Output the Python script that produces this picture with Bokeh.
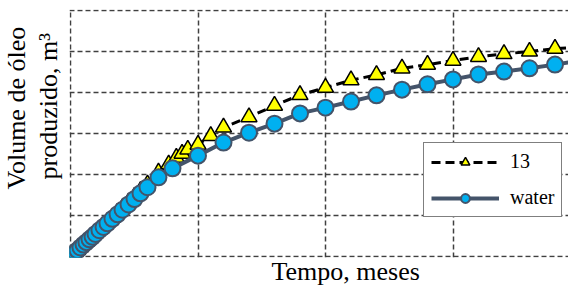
from bokeh.plotting import figure
from bokeh.models import FixedTicker, Legend, LegendItem, Range1d, Title
from bokeh.embed import file_html
from bokeh.resources import INLINE

# ---- data (time in arbitrary units, volume in grid units) ----
x_13 = [0, 0.08, 0.24, 0.39, 0.55, 0.78, 1.02, 1.25, 1.49, 1.73, 1.96, 2.27, 2.59, 2.90,
        3.29, 3.69, 4.08, 4.55, 5.02, 5.49, 6.04, 6.90, 7.7, 8.3, 8.75, 9.2, 10, 11, 12,
        14, 16, 18, 20, 22, 24, 26, 28, 30, 32, 34, 36, 38, 40]
y_13 = [0, 0.02, 0.07, 0.11, 0.16, 0.23, 0.30, 0.37, 0.44, 0.50, 0.57, 0.66, 0.75, 0.84,
        0.95, 1.07, 1.18, 1.32, 1.46, 1.60, 1.76, 2.05, 2.25, 2.41, 2.51, 2.61, 2.73, 2.94, 3.15,
        3.40, 3.68, 3.94, 4.12, 4.30, 4.43, 4.59, 4.68, 4.78, 4.87, 4.94, 5.00, 5.07, 5.11]

x_water = [0, 0.08, 0.24, 0.39, 0.55, 0.78, 1.02, 1.25, 1.49, 1.73, 1.96, 2.27, 2.59, 2.90,
           3.29, 3.69, 4.08, 4.55, 5.02, 5.49, 6.04, 6.90, 8.0, 10, 12, 14, 16, 18, 20, 22,
           24, 26, 28, 30, 32, 34, 36, 38, 40]
y_water = [0, 0.02, 0.07, 0.11, 0.15, 0.22, 0.29, 0.35, 0.42, 0.48, 0.55, 0.64, 0.72, 0.81,
           0.92, 1.03, 1.14, 1.27, 1.40, 1.54, 1.69, 1.93, 2.15, 2.46, 2.78, 3.02, 3.24, 3.49,
           3.63, 3.78, 3.93, 4.07, 4.20, 4.32, 4.44, 4.51, 4.59, 4.68, 4.78]

x_grid = [0, 10, 20, 30, 40]
y_grid = [0, 1, 2, 3, 4, 5, 6]

label_13 = "13"
label_water = "water"
x_title = "Tempo, meses"
y_title_1 = "Volume de óleo"
y_title_2 = "produzido, m³"

SERIF = "Liberation Serif"

p = figure(width=568, height=287, output_backend="svg", toolbar_location=None,
           x_range=Range1d(-1 / 12.75, 498 / 12.75),
           y_range=Range1d(-1 / 41, 247 / 41),
           min_border_left=69, min_border_right=0, min_border_top=9, min_border_bottom=30)
p.xaxis.visible = False
p.yaxis.visible = False
p.outline_line_color = None
p.background_fill_color = "white"
p.border_fill_color = "white"

p.xgrid.ticker = FixedTicker(ticks=x_grid)
p.ygrid.ticker = FixedTicker(ticks=y_grid)
p.grid.grid_line_color = "#404040"
p.grid.grid_line_dash = "5 3"
p.grid.grid_line_width = 1.5
p.grid.grid_line_alpha = 1.0

l13 = p.line(x_13, y_13, line_color="black", line_width=3, line_dash="9 5")
s13 = p.scatter(x_13, y_13, marker="triangle", size=16, fill_color="#FFFF00",
                line_color="black", line_width=1.5)
lw = p.line(x_water, y_water, line_color="#44546A", line_width=4)
sw = p.scatter(x_water, y_water, marker="circle", size=16, fill_color="#00B0F0",
               line_color="#44546A", line_width=2)

legend = Legend(items=[LegendItem(label=label_13, renderers=[l13, s13]),
                       LegendItem(label=label_water, renderers=[lw, sw])],
                location=(354, 40), orientation="vertical",
                label_text_font=SERIF, label_text_font_size="20px", label_text_color="black",
                border_line_color="black", border_line_width=1, background_fill_color="white",
                background_fill_alpha=1.0, padding=7, spacing=13, margin=0,
                glyph_width=68, glyph_height=22, label_height=22, label_standoff=11)
p.add_layout(legend)

# axis titles as titles in the side panels (offset from the frame's start)
p.add_layout(Title(text=x_title, align="left", offset=202, vertical_align="top", standoff=-2,
                   text_font=SERIF, text_font_size="26px", text_font_style="normal",
                   text_color="black"), "below")
p.add_layout(Title(text=y_title_2, align="left", offset=78, vertical_align="bottom", standoff=14,
                   text_font=SERIF, text_font_size="26px", text_font_style="normal",
                   text_color="black"), "left")
p.add_layout(Title(text=y_title_1, align="left", offset=68, vertical_align="bottom", standoff=-12,
                   text_font=SERIF, text_font_size="26px", text_font_style="normal",
                   text_color="black"), "left")

open("out.html", "w").write(file_html(p, INLINE))
